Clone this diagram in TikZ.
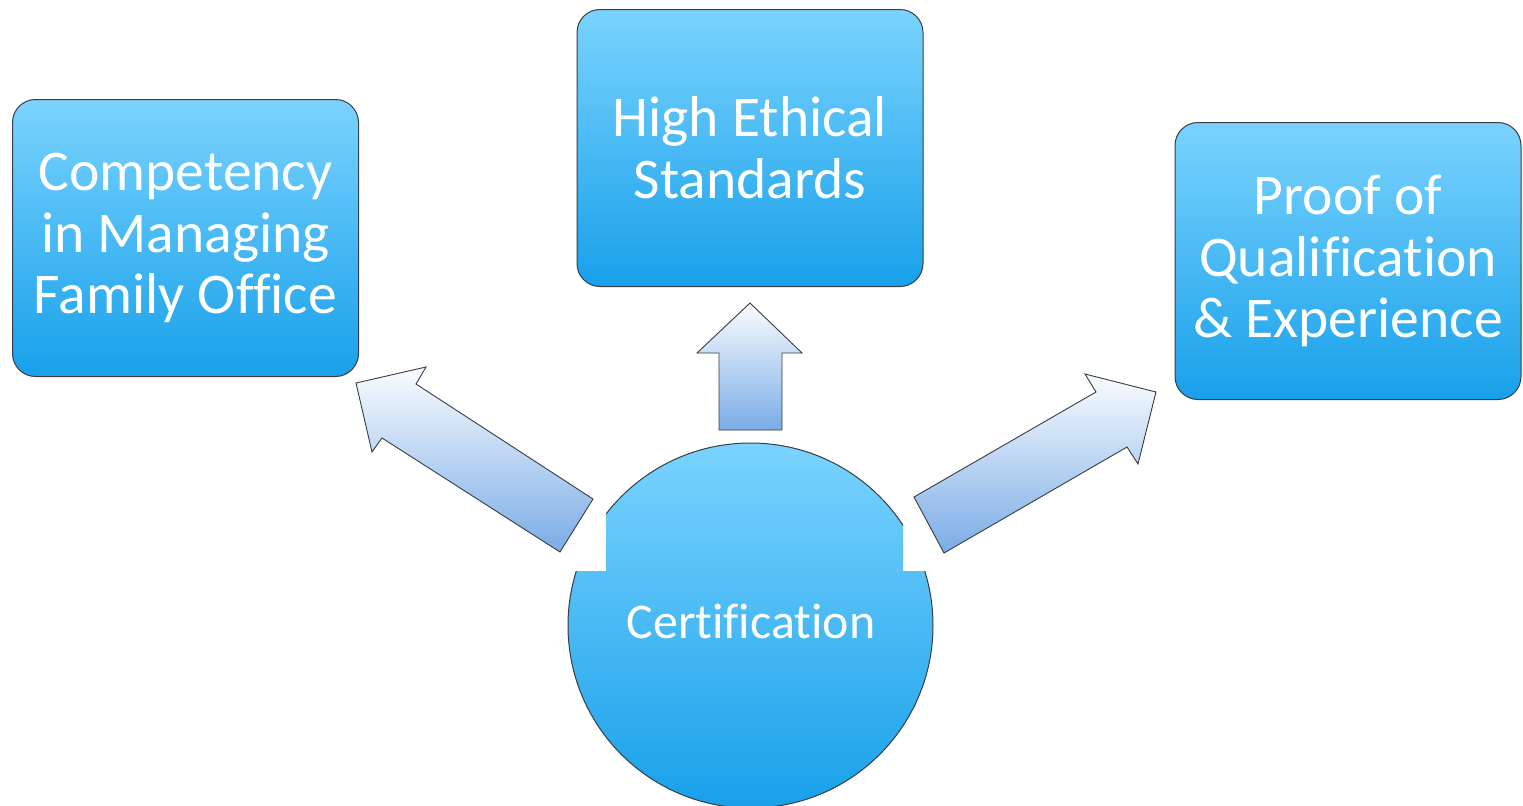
\documentclass[tikz,border=0pt]{standalone}
\usepackage{fontspec}
\setmainfont{Carlito}[Ligatures=NoCommon]
\definecolor{boxtop}{RGB}{122,211,253}
\definecolor{boxbot}{RGB}{24,160,234}
\definecolor{arrtop}{RGB}{250,252,255}
\definecolor{arrbot}{RGB}{122,172,230}
\definecolor{edgecol}{RGB}{55,60,70}
\begin{document}
\begin{tikzpicture}[x=0.5pt,y=-0.5pt,
  infobox/.style={rectangle, rounded corners=11.5pt, draw=edgecol, line width=0.5pt,
    top color=boxtop, bottom color=boxbot, minimum width=173pt, minimum height=138.5pt,
    text=white, font=\fontsize{28.8}{30.8}\selectfont, align=center, inner sep=0pt},
  blockarrow/.style={draw=edgecol, line width=0.45pt, top color=arrtop, bottom color=arrbot},
  centrelabel/.style={text=white, font=\fontsize{25}{28}\selectfont, anchor=base, inner sep=0pt}]
\useasboundingbox (0,0) rectangle (1523,805);

% boxes
\node[infobox] (comp) at (185.5,238) {Competency\\in Managing\\Family Office};
\node[infobox] (ethic) at (750,148) {High Ethical\\Standards};
\node[infobox] (proof) at (1348,261) {Proof of\\Qualification\\\& Experience};

% centre circle with notches
\coordinate (cc) at (750.5,625.5);
\begin{scope}
  \clip (560,571) rectangle (945,812) (606,430) rectangle (903,572);
  \shade[top color=boxtop, bottom color=boxbot] (cc) circle (91.25pt);
  \draw[edgecol, line width=0.5pt] (cc) circle (91.25pt);
\end{scope}
\node[centrelabel] (cert) at (751,638) {Certification};

% block arrows
\draw[blockarrow] (356,383) -- (426,367) -- (416,384) -- (593,499) -- (560,552)
  -- (382,438) -- (372,452) -- cycle;
\draw[blockarrow] (750,303) -- (802,353) -- (782,353) -- (782,430) -- (719,430)
  -- (719,353) -- (697,353) -- cycle;
\draw[blockarrow] (1156,392) -- (1085,374) -- (1096,392) -- (914,497) -- (944,553)
  -- (1127,447) -- (1138,464) -- cycle;
\end{tikzpicture}
\end{document}
